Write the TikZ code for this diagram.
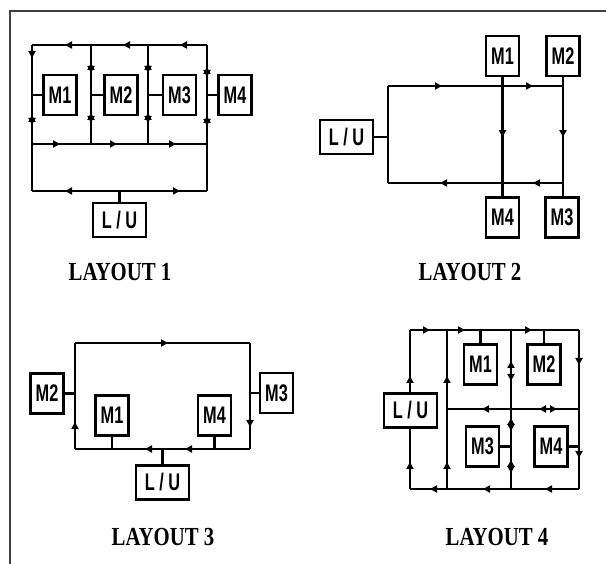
\documentclass[tikz,border=0pt]{standalone}
\usepackage{graphicx}
\usepackage{fontspec}
\setmainfont{Liberation Serif}
\setsansfont{Liberation Sans}
\usetikzlibrary{arrows.meta,decorations.markings}

\newcommand{\sq}[1]{\scalebox{0.68}[1]{#1}}
\newcommand{\ttl}[1]{\scalebox{0.8}[1]{\bfseries #1}}

\begin{document}
\begin{tikzpicture}[
          x=1pt, y=-1pt,
          >={Triangle[length=7pt,width=7pt]},
          wire/.style={draw=black, line width=2.5pt},
          mbox/.style={draw=black, line width=2.2pt, fill=white, inner sep=0pt,
                       minimum width=33pt, minimum height=40pt,
                       font=\sffamily\bfseries\fontsize{24}{24}\selectfont},
          lubox/.style={draw=black, line width=2.2pt, fill=white, inner sep=0pt,
                        minimum width=53pt, minimum height=34pt,
                        font=\sffamily\bfseries\fontsize{24}{24}\selectfont},
          title/.style={font=\fontsize{26}{26}\selectfont},
          fw/.style={postaction={decorate,decoration={markings,mark=at position #1 with {\arrow{>}}}}},
          bw/.style={postaction={decorate,decoration={markings,mark=at position #1 with {\arrowreversed{>}}}}}
        ]
        \useasboundingbox (0,0) rectangle (606,564);
        % frame
        \coordinate (f0) at (10,11);
        \coordinate (f1) at (606,11);
        \coordinate (f2) at (10,564);
        \draw[black!75, line width=1.5pt] (f1) -- (f0) -- (f2);

        % layout 1
        \coordinate (a1) at (32,45);  \coordinate (a2) at (91,45);
        \coordinate (a3) at (148,45); \coordinate (a4) at (207,45);
        \coordinate (b1) at (32,144);  \coordinate (b2) at (91,144);
        \coordinate (b3) at (148,144); \coordinate (b4) at (207,144);
        \coordinate (c1) at (32,191);  \coordinate (c4) at (207,191);
        \draw[wire, fw=27pt, fw=84pt, fw=142pt] (a4) -- (a1);
        \draw[wire, fw=13pt, bw=70pt, fw=80pt] (a1) -- (c1);
        \draw[wire, bw=18pt, fw=28pt, bw=68pt, fw=78pt] (a2) -- (b2);
        \draw[wire, bw=18pt, fw=28pt, bw=68pt, fw=78pt] (a3) -- (b3);
        \draw[wire, bw=22pt, fw=32pt, bw=71pt, fw=81pt] (a4) -- (c4);
        \draw[wire, fw=28pt, fw=85pt, fw=144pt] (b1) -- (b4);
        \draw[wire, bw=33pt, fw=148pt] (c1) -- (c4);
        \node[mbox] (l1m1) at (60,95) {\sq{M1}};
        \node[mbox] (l1m2) at (121,95) {\sq{M2}};
        \node[mbox] (l1m3) at (179.5,95) {\sq{M3}};
        \node[mbox] (l1m4) at (235,95) {\sq{M4}};
        \node[lubox] (l1lu) at (119.5,220) {\sq{L / U}};
        \draw[wire] (l1m1.west) -- (l1m1.west -| a1);
        \draw[wire] (l1m2.west) -- (l1m2.west -| a2);
        \draw[wire] (l1m3.west) -- (l1m3.west -| a3);
        \draw[wire] (l1m4.west) -- (l1m4.west -| a4);
        \draw[wire] (l1lu.north) -- (l1lu.north |- c1);
        \node[title] (t1) at (120,272) {\ttl{LAYOUT 1}};

        % layout 2
        \coordinate (p1) at (388,86);  \coordinate (p2) at (563,86);
        \coordinate (p3) at (388,183); \coordinate (p4) at (563,183);
        \node[mbox] (l2m1) at (502.5,56) {\sq{M1}};
        \node[mbox] (l2m2) at (563,56) {\sq{M2}};
        \node[mbox] (l2m4) at (502.5,217.5) {\sq{M4}};
        \node[mbox] (l2m3) at (562,217.5) {\sq{M3}};
        \node[lubox] (l2lu) at (346.5,137) {\sq{L / U}};
        \draw[wire, fw=54pt, fw=145pt] (p1) -- (p2);
        \draw[wire] (p1) -- (p3);
        \draw[wire, fw=30pt, fw=123pt] (p4) -- (p3);
        \draw[wire, fw=60pt] (l2m2.south) -- (l2m2.south |- l2m3.north);
        \draw[wire, fw=60pt] (l2m1.south) -- (l2m4.north);
        \draw[wire] (l2lu.east) -- (l2lu.east -| p1);
        \node[title] (t2) at (470,272) {\ttl{LAYOUT 2}};

        % layout 3
        \coordinate (q1) at (75,343);  \coordinate (q2) at (250,343);
        \coordinate (q3) at (75,449);  \coordinate (q4) at (250,449);
        \draw[wire, fw=93pt] (q1) -- (q2);
        \draw[wire, fw=27pt] (q3) -- (q1);
        \draw[wire, fw=84pt] (q2) -- (q4);
        \draw[wire, fw=65pt, fw=105pt] (q4) -- (q3);
        \node[mbox] (l3m2) at (47,393.5) {\sq{M2}};
        \node[mbox] (l3m3) at (276.5,393) {\sq{M3}};
        \node[mbox] (l3m1) at (112,415.5) {\sq{M1}};
        \node[mbox] (l3m4) at (214.5,415.5) {\sq{M4}};
        \node[lubox] (l3lu) at (162.5,482.5) {\sq{L / U}};
        \draw[wire] (l3m2.east) -- (l3m2.east -| q1);
        \draw[wire] (l3m3.west) -- (l3m3.west -| q2);
        \draw[wire] (l3m1.south) -- (l3m1.south |- q3);
        \draw[wire] (l3m4.south) -- (l3m4.south |- q3);
        \draw[wire] (l3lu.north) -- (l3lu.north |- q3);
        \node[title] (t3) at (163,537) {\ttl{LAYOUT 3}};

        % layout 4
        \coordinate (r1) at (410,330); \coordinate (r2) at (579,330);
        \coordinate (r3) at (410,489); \coordinate (r4) at (579,489);
        \coordinate (s1) at (447,330); \coordinate (s2) at (447,489);
        \coordinate (v1) at (511,330); \coordinate (v2) at (511,489);
        \coordinate (u1) at (447,409); \coordinate (u2) at (579,409);
        \draw[wire, fw=20pt, fw=55pt, fw=122pt] (r1) -- (r2);
        \draw[wire, fw=27pt, fw=113pt] (r3) -- (r1);
        \draw[wire, fw=27pt, fw=113pt] (s2) -- (s1);
        \draw[wire, bw=31pt, fw=51pt, bw=88pt, fw=101pt, bw=130pt, fw=143pt] (v1) -- (v2);
        \draw[wire, fw=35pt, fw=128pt] (r2) -- (r4);
        \draw[wire, bw=22pt, fw=40pt, fw=97pt] (u2) -- (u1);
        \draw[wire, fw=34pt, fw=96pt, fw=149pt] (r4) -- (r3);
        \node[mbox] (l4m1) at (480.5,364.5) {\sq{M1}};
        \node[mbox] (l4m2) at (544,364.5) {\sq{M2}};
        \node[mbox] (l4m3) at (482.5,446.5) {\sq{M3}};
        \node[mbox] (l4m4) at (551,446.5) {\sq{M4}};
        \node[lubox] (l4lu) at (410.5,410.5) {\sq{L / U}};
        \draw[wire] (l4m1.north) -- (l4m1.north |- r1);
        \draw[wire] (l4m2.north) -- (l4m2.north |- r1);
        \draw[wire] (l4m3.east) -- (l4m3.east -| v1);
        \draw[wire] (l4m4.east) -- (l4m4.east -| r2);
        \node[title] (t4) at (497,537) {\ttl{LAYOUT 4}};
      \end{tikzpicture}
\end{document}
